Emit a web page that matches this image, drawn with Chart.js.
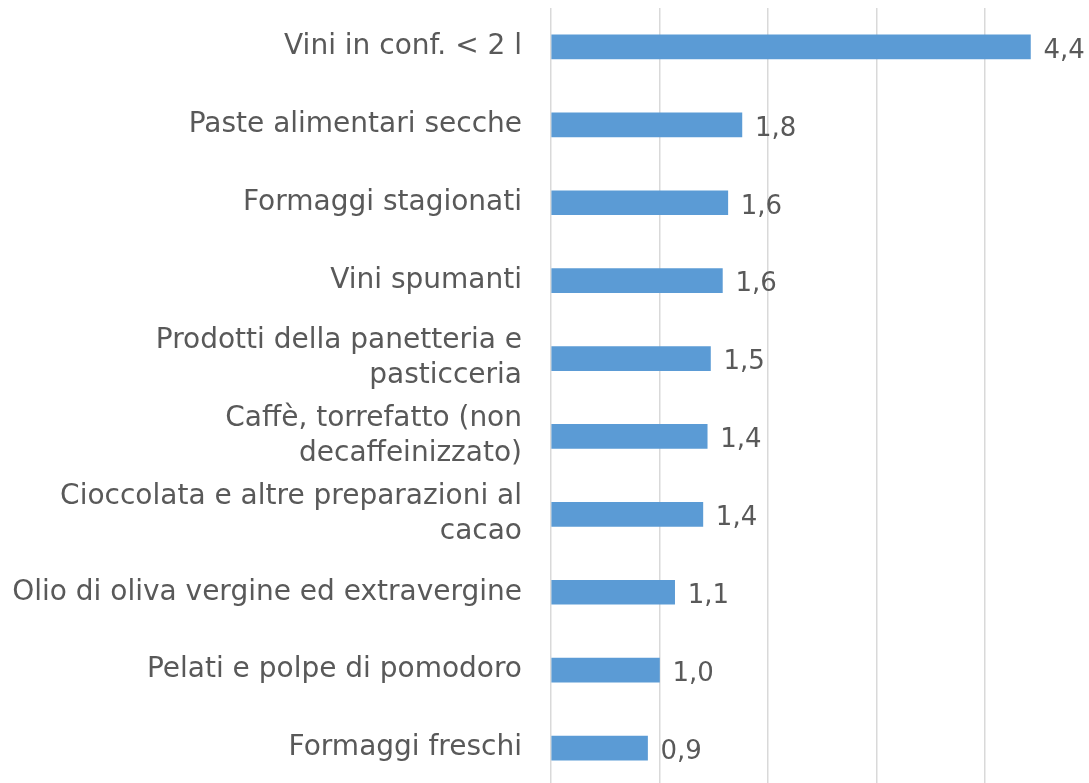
<!DOCTYPE html>
<html>
<head>
<meta charset="utf-8">
<script src="https://cdn.jsdelivr.net/npm/chart.js@4/dist/chart.umd.min.js"></script>
<style>
  html, body { margin: 0; padding: 0; background: #fff; overflow: hidden; }
  #wrap { position: relative; width: 1089px; height: 787px; }
</style>
</head>
<body>
<div id="wrap"><canvas id="chart"></canvas></div>
<script>
/* data ------------------------------------------------------------ */
const categories = [
  'Vini in conf. < 2 l',
  'Paste alimentari secche',
  'Formaggi stagionati',
  'Vini spumanti',
  ['Prodotti della panetteria e', 'pasticceria'],
  ['Caffè, torrefatto (non', 'decaffeinizzato)'],
  ['Cioccolata e altre preparazioni al', 'cacao'],
  'Olio di oliva vergine ed extravergine',
  'Pelati e polpe di pomodoro',
  'Formaggi freschi'
];
const values = [4.42, 1.76, 1.63, 1.58, 1.47, 1.44, 1.40, 1.14, 1.00, 0.89];
const gridTicks = [0, 1, 2, 3, 4];

const FONT  = '"DejaVu Sans", sans-serif';
const INK   = '#595959';
const BLUE  = '#5b9bd5';

/* value labels next to bar ends ----------------------------------- */
const valueLabels = {
  id: 'valueLabels',
  afterDatasetsDraw(chart) {
    const { ctx } = chart;
    const meta = chart.getDatasetMeta(0);
    ctx.save();
    ctx.font = '26px ' + FONT;
    ctx.fillStyle = INK;
    ctx.textBaseline = 'middle';
    meta.data.forEach((bar, i) => {
      const txt = values[i].toFixed(1).replace('.', ',');
      const w = ctx.measureText(txt).width;
      const x = Math.min(bar.x + 13, chart.width - w - 3);
      ctx.fillText(txt, x, bar.y + 4);
    });
    ctx.restore();
  }
};

new Chart(document.getElementById('chart'), {
  type: 'bar',
  data: {
    labels: categories,
    datasets: [{
      data: values,
      backgroundColor: BLUE,
      borderWidth: 0,
      barThickness: 24
    }]
  },
  options: {
    indexAxis: 'y',
    responsive: true,
    maintainAspectRatio: false,
    animation: false,
    layout: { padding: { top: 8, right: 0, left: 0, bottom: 0 } },
    plugins: { legend: { display: false }, tooltip: { enabled: false } },
    scales: {
      x: {
        min: 0,
        max: 4.96,
        afterBuildTicks: s => { s.ticks = gridTicks.map(v => ({ value: v })); },
        ticks: { display: false },
        border: { display: false },
        grid: { color: '#d9d9d9', lineWidth: 1.5, drawTicks: false }
      },
      y: {
        afterFit: s => { s.paddingTop = 0; s.paddingBottom = 0; s.width = 551; },
        ticks: {
          color: INK,
          font: { family: FONT, size: 28, lineHeight: 1.25 },
          padding: 29,
          autoSkip: false
        },
        grid: { display: false, drawTicks: false },
        border: { display: false }
      }
    }
  },
  plugins: [valueLabels]
});
</script>
</body>
</html>
